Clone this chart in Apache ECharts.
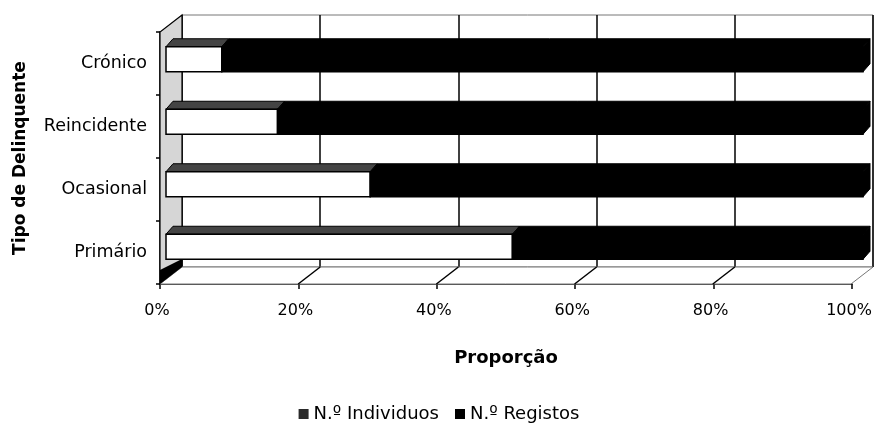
<!DOCTYPE html>
<html><head><meta charset="utf-8">
<script src="https://cdn.jsdelivr.net/npm/echarts@6/dist/echarts.min.js"></script>
<style>html,body{margin:0;padding:0;background:#fff}#c{width:878px;height:424px}</style>
</head><body><div id="c"></div>
<script>
// ---- data ----
const categories = ['Primário', 'Ocasional', 'Reincidente', 'Crónico'];
const individuos = [49.7, 29.3, 16.0, 8.0];
const registos = [50.3, 70.7, 84.0, 92.0];
const xTicks = [0, 20, 40, 60, 80, 100];
const tickLabels = ['0%', '20%', '40%', '60%', '80%', '100%'];
const seriesNames = ['N.º Individuos', 'N.º Registos'];

// ---- layout / style ----
const FONT = 'DejaVu Sans';
const WALL_DEPTH = { dx: -22, dy: 17 };   // back wall -> front edge
const BAR_DEPTH = { dx: 7, dy: 8 };       // bar front face -> bar back

const chart = echarts.init(document.getElementById('c'), null, { renderer: 'canvas' });

function barRender(faceFill, topFill, drawEnd) {
  return function (params, api) {
    const a = api.value(0), b = api.value(1), c = api.value(2);
    const p0 = api.coord([a, c]), p1 = api.coord([b, c]);
    const h = api.size([0, 1])[1] * 0.4;
    const yt = p0[1] - h / 2, yb = p0[1] + h / 2;
    const x0 = p0[0], x1 = p1[0];
    const ch = [
      { type: 'polygon', shape: { points: [[x0, yt], [x0 + BAR_DEPTH.dx, yt - BAR_DEPTH.dy], [x1 + BAR_DEPTH.dx, yt - BAR_DEPTH.dy], [x1, yt]] },
        style: { fill: topFill, stroke: '#000', lineWidth: 1 } },
      { type: 'rect', shape: { x: x0, y: yt, width: x1 - x0, height: h },
        style: { fill: faceFill, stroke: '#000', lineWidth: 1.5 } }
    ];
    if (drawEnd) {
      ch.push({ type: 'polygon', shape: { points: [[x1, yt], [x1 + BAR_DEPTH.dx, yt - BAR_DEPTH.dy], [x1 + BAR_DEPTH.dx, yb - BAR_DEPTH.dy], [x1, yb]] },
        style: { fill: '#000', stroke: '#000', lineWidth: 1 } });
    }
    return { type: 'group', children: ch };
  };
}

const option = {
  animation: false,
  backgroundColor: '#fff',
  grid: [
    { left: 182, right: 5, top: 15, bottom: 157, show: true, borderColor: '#777', borderWidth: 1, backgroundColor: '#fff' }, // back wall
    { left: 166, right: 15, top: 28, bottom: 146 },   // bars
    { left: 160, right: 26, top: 32, bottom: 140 }    // front axes
  ],
  xAxis: [
    { gridIndex: 0, type: 'value', min: 0, max: 100, interval: 20,
      axisLine: { show: false }, axisTick: { show: false }, axisLabel: { show: false },
      splitLine: { show: true, lineStyle: { color: '#000', width: 1.5 } } },
    { gridIndex: 1, type: 'value', min: 0, max: 100, show: false },
    { gridIndex: 2, type: 'value', min: 0, max: 100, interval: 20,
      axisLine: { show: true, lineStyle: { color: '#000', width: 1.5 } },
      axisTick: { show: true, length: 5, lineStyle: { color: '#000', width: 1.5 } },
      splitLine: { show: false },
      axisLabel: { color: '#000', fontFamily: FONT, fontSize: 16, margin: 19, padding: [0, 6, 0, 0],
        formatter: function (v) { return tickLabels[xTicks.indexOf(v)]; } },
      name: 'Proporção', nameLocation: 'middle', nameGap: 65,
      nameTextStyle: { color: '#000', fontFamily: FONT, fontWeight: 'bold', fontSize: 18 } }
  ],
  yAxis: [
    { gridIndex: 0, type: 'value', min: 0, max: 1, show: false, splitLine: { show: false } },
    { gridIndex: 1, type: 'category', data: categories, show: false },
    { gridIndex: 2, type: 'category', data: categories,
      axisLine: { show: true, lineStyle: { color: '#000', width: 1.5 } },
      axisTick: { show: true, length: 4, lineStyle: { color: '#000', width: 1.5 } },
      axisLabel: { color: '#000', fontFamily: FONT, fontSize: 17.5, margin: 13, padding: [4, 0, 0, 0] },
      name: 'Tipo de Delinquente', nameLocation: 'middle', nameRotate: 90, nameGap: 131,
      nameTextStyle: { color: '#000', fontFamily: FONT, fontWeight: 'bold', fontSize: 17 } }
  ],
  legend: {
    data: [
      { name: seriesNames[0], itemStyle: { color: '#2a2a2a' } },
      { name: seriesNames[1], itemStyle: { color: '#000' } }
    ],
    icon: 'rect', itemWidth: 10, itemHeight: 10, itemGap: 16,
    left: 'center', top: 400,
    textStyle: { color: '#000', fontFamily: FONT, fontSize: 18 }
  },
  series: [
    { // left wall and floor
      type: 'custom', xAxisIndex: 0, yAxisIndex: 0, silent: true, z: 1,
      data: [[0, 0]],
      renderItem: function (params, api) {
        const cs = params.coordSys;
        const L = cs.x, R = cs.x + cs.width, T = cs.y, B = cs.y + cs.height;
        const dx = WALL_DEPTH.dx, dy = WALL_DEPTH.dy;
        return { type: 'group', children: [
          { type: 'polygon', shape: { points: [[L, T], [L, B], [L + dx, B + dy], [L + dx, T + dy]] },
            style: { fill: '#d6d6d6', stroke: '#000', lineWidth: 1.2 } },
          { type: 'polygon', shape: { points: [[L, B], [R, B], [R + dx, B + dy], [L + dx, B + dy]] },
            style: { fill: '#fff', stroke: '#777', lineWidth: 1 } },
          { type: 'polygon', shape: { points: [[L, B - 8], [L, B], [L + dx, B + dy], [L + dx, B + dy - 14]] },
            style: { fill: '#000' } }
        ] };
      }
    },
    { // floor diagonals at each tick
      type: 'custom', xAxisIndex: 0, yAxisIndex: 0, silent: true, z: 2,
      data: xTicks.slice(1, 5).map(function (v) { return [v, 0]; }),
      renderItem: function (params, api) {
        const p = api.coord([api.value(0), 0]);
        return { type: 'line', shape: { x1: p[0], y1: p[1], x2: p[0] + WALL_DEPTH.dx, y2: p[1] + WALL_DEPTH.dy },
          style: { stroke: '#000', lineWidth: 1.5 } };
      }
    },
    {
      name: seriesNames[0], type: 'custom', xAxisIndex: 1, yAxisIndex: 1, z: 3,
      itemStyle: { color: '#2a2a2a' },
      encode: { x: [0, 1], y: 2 },
      data: categories.map(function (c, i) { return [0, individuos[i], i]; }),
      renderItem: barRender('#fff', '#444', false)
    },
    {
      name: seriesNames[1], type: 'custom', xAxisIndex: 1, yAxisIndex: 1, z: 4,
      itemStyle: { color: '#000' },
      encode: { x: [0, 1], y: 2 },
      data: categories.map(function (c, i) { return [individuos[i], individuos[i] + registos[i], i]; }),
      renderItem: barRender('#000', '#000', true)
    }
  ]
};
chart.setOption(option);
</script>
</body></html>
